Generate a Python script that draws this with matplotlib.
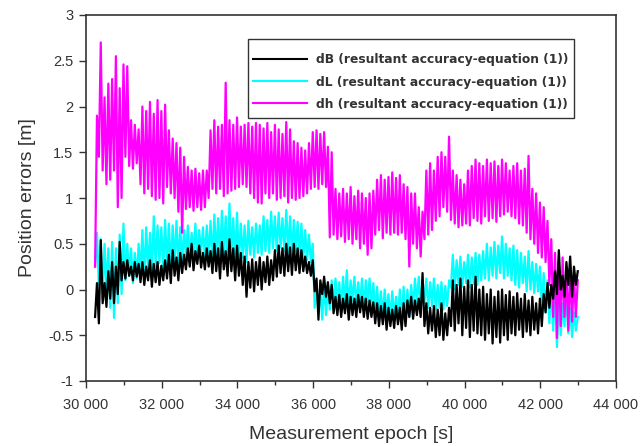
import numpy as np
import matplotlib
matplotlib.use('Agg')
import matplotlib.pyplot as plt
from matplotlib.patches import Rectangle
from matplotlib.ticker import FuncFormatter, MultipleLocator

# band minimum read at each epoch, band maximum read 50 s later (every 100 s)
epoch_lo = np.arange(30240, 42941, 100)
epoch_hi = epoch_lo + 50

dB_lo = [-0.3, -0.37, -0.15, -0.19, -0.1, -0.15, -0.05, 0.1, 0.12, 0.15, 0.1, 0.14, 0.08, 0.05, 0.1, 0.03,
         0.08, 0.05, 0.1, 0.12, 0.07, 0.15, 0.1, 0.18, 0.22, 0.25, 0.21, 0.28, 0.24, 0.22, 0.25, 0.18,
         0.2, 0.12, 0.22, 0.15, 0.2, 0.1, 0.15, 0.05, -0.08, 0.02, -0.02, 0.05, 0.0, 0.08, 0.05, 0.1,
         0.14, 0.18, 0.15, 0.2, 0.16, 0.21, 0.18, 0.2, 0.18, 0.15, -0.02, -0.33, -0.05, -0.08, -0.15, -0.26,
         -0.28, -0.3, -0.26, -0.33, -0.28, -0.3, -0.25, -0.3, -0.32, -0.3, -0.37, -0.4, -0.38, -0.44, -0.4, -0.42,
         -0.38, -0.44, -0.4, -0.3, -0.32, -0.28, -0.3, -0.4, -0.48, -0.45, -0.52, -0.5, -0.55, -0.5, -0.4, -0.45,
         -0.37, -0.5, -0.42, -0.52, -0.45, -0.48, -0.5, -0.55, -0.48, -0.59, -0.52, -0.58, -0.5, -0.55, -0.48, -0.5,
         -0.44, -0.52, -0.46, -0.5, -0.44, -0.48, -0.4, -0.25, -0.2, -0.1, -0.05, 0.0, -0.08, 0.05, -0.08, 0.05]
dB_hi = [0.07, 0.54, 0.07, 0.2, 0.3, 0.25, 0.52, 0.3, 0.32, 0.25, 0.3, 0.28, 0.3, 0.25, 0.32, 0.28,
         0.3, 0.26, 0.32, 0.38, 0.43, 0.35, 0.4, 0.38, 0.45, 0.5, 0.42, 0.48, 0.4, 0.45, 0.42, 0.5,
         0.45, 0.52, 0.42, 0.55, 0.45, 0.48, 0.4, 0.36, 0.3, 0.33, 0.3, 0.35, 0.3, 0.36, 0.32, 0.43,
         0.48, 0.45, 0.5, 0.46, 0.5, 0.45, 0.43, 0.36, 0.3, 0.32, 0.12, 0.1, 0.14, 0.08, 0.05, -0.08,
         -0.06, -0.1, -0.05, -0.08, -0.1, -0.06, -0.08, -0.1, -0.12, -0.14, -0.15, -0.18, -0.15, -0.2, -0.22, -0.18,
         -0.2, -0.15, -0.12, -0.08, -0.12, -0.1, 0.18, -0.15, -0.2, -0.18, -0.22, -0.15, -0.26, -0.2, 0.1, 0.05,
         0.12, 0.03, 0.1, 0.05, 0.14, 0.0, 0.03, -0.05, 0.0, -0.08, -0.02, 0.0, -0.06, -0.02, -0.08, -0.04,
         -0.1, -0.05, -0.12, -0.08, -0.15, -0.1, -0.05, 0.07, 0.05, 0.2, 0.43, 0.15, 0.3, 0.36, 0.25, 0.2]

dL_lo = [0.25, 0.05, -0.1, 0.0, -0.2, -0.31, -0.15, -0.05, 0.1, 0.15, 0.07, 0.12, 0.18, 0.1, 0.2, 0.15,
         0.25, 0.29, 0.22, 0.25, 0.21, 0.28, 0.25, 0.3, 0.35, 0.32, 0.38, 0.35, 0.4, 0.34, 0.36, 0.3,
         0.35, 0.32, 0.38, 0.3, 0.35, 0.32, 0.3, 0.35, 0.3, 0.38, 0.35, 0.4, 0.38, 0.42, 0.4, 0.45,
         0.42, 0.46, 0.42, 0.4, 0.38, 0.42, 0.36, 0.33, 0.32, 0.3, -0.2, -0.25, -0.33, -0.28, -0.22, -0.18,
         -0.15, -0.2, -0.16, -0.2, -0.12, -0.18, -0.15, -0.2, -0.14, -0.2, -0.26, -0.28, -0.3, -0.26, -0.33, -0.3,
         -0.33, -0.37, -0.35, -0.3, -0.2, -0.15, -0.18, -0.15, -0.2, -0.18, -0.22, -0.2, -0.22, -0.18, 0.02, 0.0,
         0.05, 0.03, 0.07, 0.02, 0.06, 0.05, 0.1, 0.12, 0.1, 0.15, 0.12, 0.18, 0.12, 0.15, 0.1, 0.05,
         0.02, 0.07, -0.02, 0.0, -0.04, -0.02, -0.19, -0.25, -0.37, -0.45, -0.63, -0.5, -0.4, -0.48, -0.52, -0.45]
dL_hi = [0.62, 0.55, 0.5, 0.45, 0.52, 0.45, 0.6, 0.72, 0.5, 0.45, 0.4, 0.5, 0.65, 0.68, 0.62, 0.8,
         0.7, 0.68, 0.76, 0.72, 0.7, 0.75, 0.68, 0.65, 0.7, 0.62, 0.72, 0.65, 0.68, 0.7, 0.75, 0.82,
         0.78, 0.86, 0.8, 0.94, 0.78, 0.84, 0.72, 0.7, 0.75, 0.68, 0.72, 0.7, 0.8, 0.76, 0.85, 0.8,
         0.84, 0.78, 0.87, 0.8, 0.76, 0.74, 0.72, 0.65, 0.6, 0.5, 0.05, 0.0, 0.07, 0.03, 0.1, 0.12,
         0.08, 0.14, 0.21, 0.1, 0.14, 0.08, 0.12, 0.1, 0.12, 0.07, 0.03, -0.02, 0.0, -0.05, -0.02, -0.08,
         0.0, 0.03, 0.0, 0.05, 0.12, 0.14, 0.1, 0.12, 0.08, 0.12, 0.05, 0.08, 0.04, 0.1, 0.38, 0.32,
         0.36, 0.3, 0.38, 0.35, 0.4, 0.38, 0.42, 0.5, 0.46, 0.52, 0.48, 0.58, 0.5, 0.45, 0.48, 0.43,
         0.4, 0.36, 0.42, 0.3, 0.28, 0.25, 0.18, 0.1, 0.03, 0.0, -0.1, -0.15, -0.05, -0.2, -0.25, -0.3]

dh_lo = [0.25, 1.45, 1.3, 1.15, 1.2, 1.3, 0.9, 1.0, 1.45, 1.35, 1.32, 1.38, 1.15, 1.05, 1.1, 1.02,
         0.98, 1.0, 0.94, 1.12, 1.05, 1.0, 0.85, 0.62, 0.88, 0.9, 0.86, 0.9, 0.87, 0.9, 1.0, 1.1,
         1.05, 1.1, 1.02, 1.05, 1.08, 1.1, 1.12, 1.15, 1.12, 1.05, 1.0, 0.95, 0.94, 1.05, 1.0, 1.05,
         0.98, 1.0, 1.02, 0.95, 1.0, 0.98, 1.0, 1.02, 1.05, 1.1, 1.12, 1.1, 1.15, 1.12, 0.57, 0.6,
         0.55, 0.58, 0.52, 0.55, 0.5, 0.55, 0.45, 0.5, 0.38, 0.45, 0.6, 0.65, 0.56, 0.62, 0.6, 0.62,
         0.6, 0.62, 0.55, 0.25, 0.5, 0.45, 0.36, 0.55, 0.6, 0.65, 0.75, 0.8, 0.9, 0.85, 0.76, 0.72,
         0.68, 0.7, 0.72, 0.7, 0.78, 0.75, 0.72, 0.8, 0.75, 0.78, 0.74, 0.8, 0.82, 0.85, 0.8, 0.78,
         0.72, 0.7, 0.62, 0.55, 0.5, 0.4, 0.35, 0.3, 0.05, -0.3, -0.53, -0.4, -0.3, -0.45, -0.35, -0.3]
dh_hi = [1.9, 2.7, 2.1, 2.25, 2.3, 2.55, 2.2, 2.46, 2.44, 1.85, 1.8, 1.75, 2.0, 1.95, 2.05, 1.92,
         2.07, 1.95, 2.02, 1.74, 1.65, 1.6, 1.55, 1.45, 1.34, 1.3, 1.32, 1.27, 1.3, 1.3, 1.74, 1.85,
         1.78, 1.8, 2.26, 1.85, 1.8, 1.88, 1.78, 1.8, 1.82, 1.78, 1.82, 1.8, 1.76, 1.82, 1.72, 1.8,
         1.75, 1.7, 1.83, 1.75, 1.62, 1.6, 1.55, 1.52, 1.6, 1.72, 1.74, 1.7, 1.72, 1.56, 1.5, 1.1,
         1.05, 1.1, 1.05, 1.12, 1.02, 1.08, 1.05, 1.0, 1.05, 1.08, 1.2, 1.25, 1.2, 1.23, 1.28, 1.22,
         1.25, 1.15, 1.12, 1.05, 1.05, 0.9, 0.85, 1.3, 1.38, 1.3, 1.45, 1.5, 1.45, 1.67, 1.3, 1.25,
         1.2, 1.15, 1.3, 1.35, 1.42, 1.38, 1.35, 1.42, 1.38, 1.4, 1.35, 1.42, 1.38, 1.3, 1.35, 1.38,
         1.3, 1.32, 1.46, 1.1, 1.05, 0.95, 0.9, 0.75, 0.55, 0.4, 0.3, 0.35, 0.2, 0.25, 0.15, 0.1]

labels = ['dB (resultant accuracy-equation (1))',
          'dL (resultant accuracy-equation (1))',
          'dh (resultant accuracy-equation (1))']


def zigzag(lo, hi):
    t = np.empty(2 * len(lo))
    v = np.empty(2 * len(lo))
    t[0::2], t[1::2] = epoch_lo, epoch_hi
    v[0::2], v[1::2] = lo, hi
    return t, v


plt.rcParams['font.family'] = ['Liberation Sans', 'DejaVu Sans']

fig = plt.figure(figsize=(6.41, 4.46), dpi=100)
ax = fig.add_axes([86 / 641, 65 / 446, 530 / 641, 366 / 446])

tL, vL = zigzag(dL_lo, dL_hi)
th, vh = zigzag(dh_lo, dh_hi)
tB, vB = zigzag(dB_lo, dB_hi)
lL, = ax.plot(tL, vL, color='#00ffff', lw=1.6, label=labels[1])
lh, = ax.plot(th, vh, color='#ff00ff', lw=1.6, label=labels[2])
lB, = ax.plot(tB, vB, color='black', lw=1.6, label=labels[0])

ax.set_xlim(30000, 44000)
ax.set_ylim(-1, 3)
ax.xaxis.set_major_locator(MultipleLocator(2000))
ax.xaxis.set_minor_locator(MultipleLocator(1000))
ax.yaxis.set_major_locator(MultipleLocator(0.5))
ax.xaxis.set_major_formatter(FuncFormatter(lambda x, p: f'{int(x):,}'.replace(',', ' ')))
ax.yaxis.set_major_formatter(FuncFormatter(lambda y, p: f'{y:g}'))

ax.tick_params(axis='both', which='major', direction='out', length=5, width=1.0,
               color='#333333', labelcolor='#333333', labelsize=10.5)
ax.tick_params(axis='x', which='minor', direction='out', length=3, width=1.0, color='#333333')
ax.tick_params(axis='x', which='major', pad=7)
ax.tick_params(axis='y', which='major', pad=4)
for s in ax.spines.values():
    s.set_color('#333333')
    s.set_linewidth(1.2)

ax.set_xlabel('Measurement epoch [s]', fontsize=14, color='#333333', labelpad=10)
ax.set_ylabel('Position errors [m]', fontsize=14, color='#333333', labelpad=9)

# legend frame drawn as its own box, entries placed inside it
ax.add_patch(Rectangle((0.306, 0.719), 0.615, 0.215, transform=ax.transAxes,
                       facecolor='white', edgecolor='#333333', lw=1.0, zorder=4))
leg = ax.legend(handles=[lB, lL, lh], loc='upper left', bbox_to_anchor=(0.315, 0.895),
                frameon=False, borderaxespad=0, borderpad=0,
                prop={'weight': 'bold', 'size': 8.8, 'family': 'DejaVu Sans'},
                handlelength=4.4, handletextpad=0.75, labelspacing=0.75)
leg.set_zorder(5)
for t in leg.get_texts():
    t.set_color('#333333')
for h in leg.get_lines():
    h.set_linewidth(1.5)

fig.savefig('out.png', dpi=100)
